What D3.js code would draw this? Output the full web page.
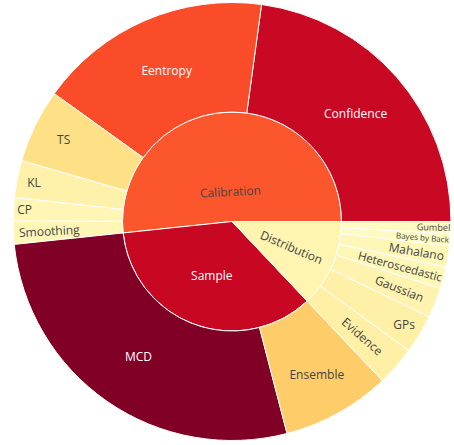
<!DOCTYPE html>
<html lang="en">
<head>
  <meta charset="UTF-8" />
  <title>Uncertainty methods sunburst</title>
  <script src="https://d3js.org/d3.v7.min.js"></script>
  <style>
    body {
      margin: 0;
      background: #fff;
    }

    .slice {
      stroke: #fff;
      stroke-width: 1;
    }

    .label {
      font-family: "Open Sans", verdana, arial, sans-serif;
      font-size: 12px;
    }
  </style>
</head>
<body>

<svg id="chart" width="454" height="445"></svg>

<script>
/* ---------------- DATA ---------------- */

const groups = ["Calibration", "Sample", "Distribution"];

const calibrationLabels = ["Confidence", "Eentropy", "TS", "KL", "CP", "Smoothing"];
const calibrationValues = [82.2, 62, 19.6, 9.8, 6.2, 6.1];

const sampleLabels = ["MCD", "Ensemble"];
const sampleValues = [98.5, 28.8];

const distributionLabels = ["Evidence", "GPs", "Gaussian", "Heteroscedastic", "Mahalano", "Bayes by Back", "Gumbel"];
const distributionValues = [10.5, 10.3, 8.0, 5.8, 5.6, 3.2, 3.2];

// plotly YlOrRd
const ylOrRd = ["#ffffcc", "#ffeda0", "#fed976", "#feb24c", "#fd8d3c", "#fc4e2a", "#e31a1c", "#bd0026", "#800026"];

/* ---------------- HIERARCHY ---------------- */

const childLabels = [calibrationLabels, sampleLabels, distributionLabels];
const childValues = [calibrationValues, sampleValues, distributionValues];

const tree = {
  name: "root",
  children: groups.map((g, i) => ({
    name: g,
    children: childLabels[i].map((l, j) => ({ name: l, value: childValues[i][j] }))
  }))
};

const root = d3.hierarchy(tree).sum(d => d.value || 0);
d3.partition().size([2 * Math.PI, 3])(root);

// colour value: leaves = value, parents = value-weighted mean of children
root.eachAfter(d => {
  if (!d.children) d.cval = d.value;
  else d.cval = d3.sum(d.children, c => c.cval * c.value) / d.value;
});

const nodes = root.descendants().filter(d => d.depth > 0);
const cMax = d3.max(nodes, d => d.cval);

// colour axis runs from 0 to the largest value
const color = d3.scaleLinear()
  .domain(ylOrRd.map((_, i) => cMax * i / (ylOrRd.length - 1)))
  .range(ylOrRd)
  .interpolate(d3.interpolateRgb);

/* ---------------- SVG SETUP ---------------- */

const cx = 232, cy = 221.5, outerR = 219;
const radius = d3.scaleLinear().domain([1, 3]).range([0, outerR]);

const svg = d3.select("#chart");
const g = svg.append("g").attr("transform", `translate(${cx},${cy})`);

// partition x runs counter-clockwise from 3 o'clock
const arc = d3.arc()
  .startAngle(d => Math.PI / 2 - d.x0)
  .endAngle(d => Math.PI / 2 - d.x1)
  .innerRadius(d => radius(d.y0))
  .outerRadius(d => radius(d.y1));

g.selectAll(".slice")
  .data(nodes)
  .enter()
  .append("path")
  .attr("class", "slice")
  .attr("d", arc)
  .attr("fill", d => color(d.cval));

/* ---------------- LABELS (plotly-like auto orientation) ---------------- */

const TEXTPAD = 3;
const FONT = 12;

function mod(a, b) { return ((a % b) + b) % b; }

function maxHalfSize(a, half, r, ring) {
  const q = a + 1 / (2 * Math.tan(half));
  return r * Math.min(
    1 / (Math.sqrt(q * q + 0.5) + q),
    ring / (Math.sqrt(a * a + ring / 2) + a)
  );
}

function placeText(w, h, d) {
  const r0 = radius(d.y0), r1 = radius(d.y1);
  const span = d.x1 - d.x0;
  const ring = 1 - r0 / r1;
  const delta = (mod(span + Math.PI, 2 * Math.PI) - Math.PI) || Math.PI;
  const half = 0.5 * Math.min(delta, Math.PI);
  const rIns = Math.max(0, Math.min(1 / (1 + 1 / Math.sin(half)), ring / 2));
  const mid = (d.x0 + d.x1) / 2;
  const midDeg = mid * 180 / Math.PI;

  const all = [];
  const hor = { scale: rIns * r1 * 2 / Math.hypot(w, h), rCenter: 1 - rIns, rotate: 0 };
  if (hor.scale >= 1) return finish(hor);
  all.push(hor);

  const rr = Math.max(0, r1 - 2 * TEXTPAD);

  let a = h / w;
  let s = maxHalfSize(a, half, rr, ring);
  all.push({ scale: 2 * s / w, rCenter: Math.cos(s / rr) - a * s / rr, rotate: mod(-midDeg + 180, 180) - 90 });

  a = w / h;
  s = maxHalfSize(a, half, rr, ring);
  all.push({ scale: 2 * s / h, rCenter: Math.cos(s / rr) - a * s / rr, rotate: mod(-midDeg + 90, 180) - 90 });

  let best = all[0];
  all.forEach(t => { if (t.scale > best.scale) best = t; });
  return finish(best);

  function finish(t) {
    t.scale = Math.min(1, t.scale);
    t.x = t.rCenter * r1 * Math.cos(mid);
    t.y = -t.rCenter * r1 * Math.sin(mid);
    return t;
  }
}

function textColor(fill) {
  const c = d3.rgb(fill);
  const bright = (c.r * 299 + c.g * 587 + c.b * 114) / 1000;
  return bright >= 128 ? "#444" : "#fff";
}

g.selectAll(".label")
  .data(nodes)
  .enter()
  .append("text")
  .attr("class", "label")
  .attr("text-anchor", "middle")
  .attr("fill", d => textColor(color(d.cval)))
  .text(d => d.data.name)
  .each(function (d) {
    const bb = this.getBBox();
    const t = placeText(bb.width, FONT * 1.1, d);
    const ox = -(bb.x + bb.width / 2), oy = -(bb.y + bb.height / 2);
    d3.select(this).attr("transform",
      `translate(${t.x},${t.y}) rotate(${t.rotate}) scale(${t.scale}) translate(${ox},${oy})`);
  });
</script>

</body>
</html>
